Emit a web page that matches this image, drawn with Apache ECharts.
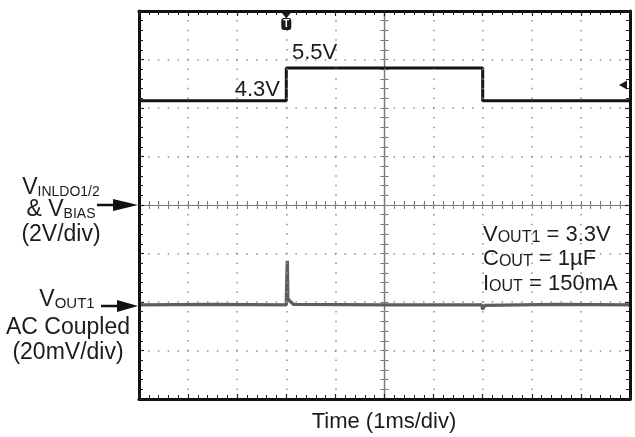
<!DOCTYPE html>
<html><head><meta charset="utf-8">
<script src="https://cdn.jsdelivr.net/npm/echarts@6/dist/echarts.min.js"></script>
<style>html,body{margin:0;padding:0;background:#fff}#c{width:635px;height:437px}</style>
</head><body><div id="c"></div>
<script>
// Time axis: 1 ms/div, 10 divisions
const timeMin = 0, timeMax = 10, timeStep = 1;
// CH1 (V_INLDO1/2 & V_BIAS), volts, 2 V/div, ground at screen centre
const vinMin = -8, vinMax = 8, vinStep = 2;
const vinTime  = [0, 3.0, 3.0, 7.0, 7.0, 10];
const vinVolts = [4.3, 4.3, 5.65, 5.65, 4.3, 4.3];
// CH2 (V_OUT1 AC coupled), millivolts, 20 mV/div, ground two divisions below centre
const voutMin = -40, voutMax = 120;
const voutTime = [0, 1.5, 3.0, 3.02, 3.03, 3.06, 3.15, 5.0, 6.98, 7.0, 7.04, 8.5, 10];
const voutMv   = [-1.2, -1.0, -1.2, 17, 1.5, 0.6, -1.0, -1.2, -1.2, -3, -1.4, -1.0, -1.2];
// Trigger markers
const trigTime = 3.0, trigLevel = 4.95;
// Annotation texts
const levelLow = '4.3V', levelHigh = '5.5V';
const xTitle = 'Time (1ms/div)';

const FF = 'Liberation Sans, Arial, sans-serif';
const INK = '#1c1c1c';

const zip = (a, b) => a.map((v, i) => [v, b[i]]);
const dotted = (period) => ({show: true, lineStyle: {color: '#8f8f8f', width: 1.5, type: [1.5, period - 1.5], dashOffset: 0.75}});
const frameLine = {onZero: false, lineStyle: {color: '#111', width: 3}};
const frameTick = {show: true, inside: true, length: 5, lineStyle: {color: '#222', width: 1.2}};
const frameMinor = {show: true, splitNumber: 5, length: 4, lineStyle: {color: '#222', width: 1}};
const crossLine = (idx) => ({onZero: true, onZeroAxisIndex: idx, lineStyle: {color: '#777', width: 1.2}});
const crossTick = (inside) => ({show: true, inside: inside, length: 4, lineStyle: {color: '#777', width: 1}});
const crossMinor = {show: true, splitNumber: 5, length: 4, lineStyle: {color: '#777', width: 1}};

const xBase = {type: 'value', min: timeMin, max: timeMax, interval: timeStep, axisLabel: {show: false}, splitLine: {show: false}};
const yBase = {type: 'value', min: vinMin, max: vinMax, interval: vinStep, axisLabel: {show: false}, splitLine: {show: false}};

const chart = echarts.init(document.getElementById('c'), null, {renderer: 'canvas'});
chart.setOption({
  animation: false,
  backgroundColor: '#fff',
  grid: {left: 139, top: 11, width: 491, height: 388, show: false},
  xAxis: [
    Object.assign({}, xBase, {position: 'bottom', axisLine: frameLine, axisTick: frameTick, minorTick: frameMinor, splitLine: dotted(9.7), z: 5}),
    Object.assign({}, xBase, {position: 'top', axisLine: frameLine, axisTick: frameTick, minorTick: frameMinor, z: 5}),
    Object.assign({}, xBase, {position: 'bottom', axisLine: crossLine(0), axisTick: crossTick(true), minorTick: crossMinor}),
    Object.assign({}, xBase, {position: 'bottom', axisLine: crossLine(0), axisTick: crossTick(false), minorTick: crossMinor}),
    {type: 'value', min: -5, max: 5, show: false}
  ],
  yAxis: [
    Object.assign({}, yBase, {position: 'left', axisLine: frameLine, axisTick: frameTick, minorTick: frameMinor, splitLine: dotted(9.82), z: 5}),
    Object.assign({}, yBase, {position: 'right', axisLine: frameLine, axisTick: frameTick, minorTick: frameMinor, z: 5}),
    Object.assign({}, yBase, {position: 'left', axisLine: crossLine(4), axisTick: crossTick(true), minorTick: crossMinor}),
    Object.assign({}, yBase, {position: 'left', axisLine: crossLine(4), axisTick: crossTick(false), minorTick: crossMinor}),
    {type: 'value', min: voutMin, max: voutMax, show: false}
  ],
  series: [
    {
      type: 'line', xAxisIndex: 0, yAxisIndex: 4, data: zip(voutTime, voutMv),
      showSymbol: false, lineStyle: {color: '#5e5e5e', width: 3.4}, z: 3
    },
    {
      type: 'line', xAxisIndex: 0, yAxisIndex: 0, data: zip(vinTime, vinVolts),
      showSymbol: false, lineStyle: {color: '#141414', width: 3}, z: 4,
      markPoint: {
        silent: true, animation: false,
        data: [
          {coord: [trigTime, vinMax], symbol: 'triangle', symbolRotate: 180, symbolSize: [11, 7], symbolOffset: [0, 4],
           itemStyle: {color: '#1a1a1a'}, label: {show: false}},
          {coord: [trigTime, vinMax], symbol: 'roundRect', symbolSize: [10, 12], symbolOffset: [0, 13],
           itemStyle: {color: '#1a1a1a'},
           label: {show: true, position: 'inside', formatter: 'T', color: '#fff', fontSize: 10, fontWeight: 'bold', fontFamily: FF, offset: [0, 0]}},
          {coord: [timeMax, trigLevel], symbol: 'triangle', symbolRotate: 90, symbolSize: [9, 8], symbolOffset: [-7, 0],
           itemStyle: {color: '#1a1a1a'}, label: {show: false}}
        ]
      }
    }
  ],
  graphic: [
    // level labels
    {type: 'text', x: 292, y: 53, z: 20, style: {text: levelHigh, font: '22px ' + FF, fill: INK, align: 'left', verticalAlign: 'middle'}},
    {type: 'text', x: 280, y: 90, z: 20, style: {text: levelLow, font: '22px ' + FF, fill: INK, align: 'right', verticalAlign: 'middle'}},
    // left labels, channel 1
    {type: 'text', x: 61, y: 188, z: 20, style: {text: '{v|V}{s|INLDO1/2}', align: 'center', verticalAlign: 'middle',
      rich: {v: {fontSize: 23, fontFamily: FF, fill: INK, verticalAlign: 'bottom', lineHeight: 23},
             s: {fontSize: 14, fontFamily: FF, fill: INK, verticalAlign: 'bottom', lineHeight: 14}}}},
    {type: 'text', x: 61, y: 210, z: 20, style: {text: '{v|& V}{s|BIAS}', align: 'center', verticalAlign: 'middle',
      rich: {v: {fontSize: 23, fontFamily: FF, fill: INK, verticalAlign: 'bottom', lineHeight: 23},
             s: {fontSize: 14, fontFamily: FF, fill: INK, verticalAlign: 'bottom', lineHeight: 14}}}},
    {type: 'text', x: 61, y: 235, z: 20, style: {text: '(2V/div)', font: '23px ' + FF, fill: INK, align: 'center', verticalAlign: 'middle'}},
    // left labels, channel 2
    {type: 'text', x: 67, y: 300, z: 20, style: {text: '{v|V}{s|OUT1}', align: 'center', verticalAlign: 'middle',
      rich: {v: {fontSize: 23, fontFamily: FF, fill: INK, verticalAlign: 'bottom', lineHeight: 23},
             s: {fontSize: 15, fontFamily: FF, fill: INK, verticalAlign: 'bottom', lineHeight: 15}}}},
    {type: 'text', x: 68, y: 328, z: 20, style: {text: 'AC Coupled', font: '23px ' + FF, fill: INK, align: 'center', verticalAlign: 'middle'}},
    {type: 'text', x: 68, y: 353, z: 20, style: {text: '(20mV/div)', font: '23px ' + FF, fill: INK, align: 'center', verticalAlign: 'middle'}},
    // arrows
    {type: 'line', z: 20, shape: {x1: 97, y1: 205, x2: 118, y2: 205}, style: {stroke: '#111', lineWidth: 2.5}},
    {type: 'polygon', z: 20, shape: {points: [[113, 199], [138, 205], [113, 211]]}, style: {fill: '#111'}},
    {type: 'line', z: 20, shape: {x1: 101, y1: 306, x2: 122, y2: 306}, style: {stroke: '#111', lineWidth: 2.5}},
    {type: 'polygon', z: 20, shape: {points: [[117, 300], [138, 306], [117, 312]]}, style: {fill: '#111'}},
    // right annotations
    {type: 'text', x: 483, y: 235, z: 20, style: {text: '{v|V}{s|OUT1}{v| = 3.3V}', align: 'left', verticalAlign: 'middle',
      rich: {v: {fontSize: 22, fontFamily: FF, fill: INK, verticalAlign: 'bottom', lineHeight: 22},
             s: {fontSize: 16, fontFamily: FF, fill: INK, verticalAlign: 'bottom', lineHeight: 16}}}},
    {type: 'text', x: 483, y: 259, z: 20, style: {text: '{v|C}{s|OUT}{v| = 1µF}', align: 'left', verticalAlign: 'middle',
      rich: {v: {fontSize: 22, fontFamily: FF, fill: INK, verticalAlign: 'bottom', lineHeight: 22},
             s: {fontSize: 16, fontFamily: FF, fill: INK, verticalAlign: 'bottom', lineHeight: 16}}}},
    {type: 'text', x: 483, y: 284, z: 20, style: {text: '{v|I}{s|OUT}{v| = 150mA}', align: 'left', verticalAlign: 'middle',
      rich: {v: {fontSize: 22, fontFamily: FF, fill: INK, verticalAlign: 'bottom', lineHeight: 22},
             s: {fontSize: 16, fontFamily: FF, fill: INK, verticalAlign: 'bottom', lineHeight: 16}}}},
    // x title
    {type: 'text', x: 384, y: 422, z: 20, style: {text: xTitle, font: '22px ' + FF, fill: INK, align: 'center', verticalAlign: 'middle'}}
  ]
});
</script></body></html>
